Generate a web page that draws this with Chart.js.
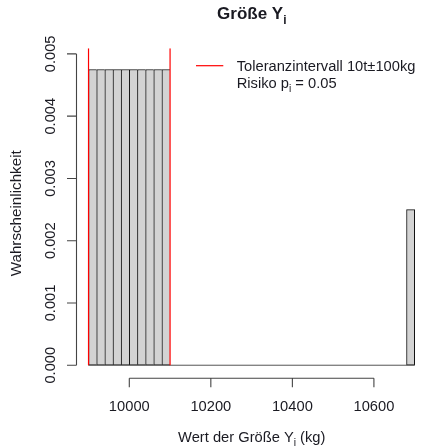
<!DOCTYPE html>
<html><head><meta charset="utf-8">
<script src="https://cdn.jsdelivr.net/npm/chart.js@4"></script>
<style>html,body{margin:0;padding:0;background:#fff}canvas{display:block}</style>
</head><body>
<canvas id="c" width="421" height="447"></canvas>
<script>
// ---- data ----
const binCenters = [9910, 9930, 9950, 9970, 9990, 10010, 10030, 10050, 10070, 10090, 10690];
const probabilities = [0.00475, 0.00475, 0.00475, 0.00475, 0.00475, 0.00475, 0.00475, 0.00475, 0.00475, 0.00475, 0.0025];
const toleranceLimits = [9900, 10100];
const zeroBaseline = [9900, 10700];
const xTicks = [10000, 10200, 10400, 10600];
const xTickLabels = ["10000", "10200", "10400", "10600"];
const yTicks = [0, 0.001, 0.002, 0.003, 0.004, 0.005];
const yTickLabels = ["0.000", "0.001", "0.002", "0.003", "0.004", "0.005"];
const titleParts = [["Größe Y", false], ["i", true]];
const xTitleParts = [["Wert der Größe Y", false], ["i", true], [" (kg)", false]];
const yTitleText = "Wahrscheinlichkeit";
const legendLine1 = [["Toleranzintervall 10t±100kg", false]];
const legendLine2 = [["Risiko p", false], ["i", true], [" = 0.05", false]];

const FONT = '"Liberation Sans", Arial, sans-serif';
const TEXT = '#1a1a22';
const AXIS = '#444';
const FS = 14.7;

function fontStr(size, bold) { return (bold ? 'bold ' : '') + size + 'px ' + FONT; }
function drawRich(ctx, parts, x, y, align, size, bold) {
  let w = 0;
  for (const [t, sub] of parts) { ctx.font = fontStr(sub ? size * 0.7 : size, bold); w += ctx.measureText(t).width; }
  let cx = align === 'center' ? x - w / 2 : x;
  ctx.textAlign = 'left'; ctx.textBaseline = 'alphabetic';
  for (const [t, sub] of parts) {
    ctx.font = fontStr(sub ? size * 0.7 : size, bold);
    ctx.fillText(t, cx, y + (sub ? size * 0.3 : 0));
    cx += ctx.measureText(t).width;
  }
}

const annotations = {
  id: 'rstyle',
  afterDatasetsDraw(chart) {
    const ctx = chart.ctx, xs = chart.scales.x, ys = chart.scales.y;
    ctx.save();
    ctx.strokeStyle = AXIS; ctx.lineWidth = 1.1; ctx.fillStyle = TEXT;
    // y axis
    const ax = chart.chartArea.left;
    ctx.beginPath();
    ctx.moveTo(ax, ys.getPixelForValue(yTicks[0]));
    ctx.lineTo(ax, ys.getPixelForValue(yTicks[yTicks.length - 1]));
    for (const v of yTicks) { const p = ys.getPixelForValue(v); ctx.moveTo(ax, p); ctx.lineTo(ax - 9.5, p); }
    ctx.stroke();
    yTicks.forEach((v, i) => {
      ctx.save(); ctx.translate(55, ys.getPixelForValue(v)); ctx.rotate(-Math.PI / 2);
      ctx.font = fontStr(FS, false); ctx.textAlign = 'center'; ctx.textBaseline = 'alphabetic';
      ctx.fillText(yTickLabels[i], 0, 0); ctx.restore();
    });
    // x axis
    const ay = chart.chartArea.bottom;
    ctx.beginPath();
    ctx.moveTo(xs.getPixelForValue(xTicks[0]), ay);
    ctx.lineTo(xs.getPixelForValue(xTicks[xTicks.length - 1]), ay);
    for (const v of xTicks) { const p = xs.getPixelForValue(v); ctx.moveTo(p, ay); ctx.lineTo(p, ay + 9); }
    ctx.stroke();
    xTicks.forEach((v, i) => {
      ctx.font = fontStr(FS, false); ctx.textAlign = 'center'; ctx.textBaseline = 'alphabetic';
      ctx.fillText(xTickLabels[i], xs.getPixelForValue(v), 411);
    });
    // titles
    const midX = (chart.chartArea.left + 427) / 2;
    drawRich(ctx, titleParts, midX, 18.5, 'center', 17, true);
    drawRich(ctx, xTitleParts, midX, 442, 'center', FS, false);
    ctx.save(); ctx.translate(20.5, (chart.chartArea.top + chart.chartArea.bottom) / 2); ctx.rotate(-Math.PI / 2);
    ctx.font = fontStr(15.2, false); ctx.textAlign = 'center'; ctx.textBaseline = 'alphabetic';
    ctx.fillText(yTitleText, 0, 0); ctx.restore();
    // legend
    ctx.strokeStyle = '#ff0000'; ctx.lineWidth = 1.2;
    ctx.beginPath(); ctx.moveTo(196, 65.7); ctx.lineTo(223.3, 65.7); ctx.stroke();
    drawRich(ctx, legendLine1, 236.7, 71, 'left', FS, false);
    drawRich(ctx, legendLine2, 236.7, 87.5, 'left', FS, false);
    ctx.restore();
  }
};

const yMin = -0.00021, yMax = 0.00509;
const lastIdx = binCenters.length - 1;

new Chart(document.getElementById('c'), {
  data: {
    datasets: [
      {
        type: 'line', order: 0,
        data: zeroBaseline.map(x => ({x, y: 0})),
        borderColor: '#555', borderWidth: 1, pointRadius: 0
      },
      {
        type: 'bar', order: 1,
        data: binCenters.map((x, i) => ({x, y: probabilities[i]})),
        backgroundColor: '#d3d3d3', borderColor: '#111',
        borderWidth: c => ({left: 1, top: 1, bottom: 1, right: c.dataIndex === lastIdx ? 1 : 0}),
        borderSkipped: false, barPercentage: 1, categoryPercentage: 1
      },
      ...toleranceLimits.map(x => ({
        type: 'line', order: -1,
        data: [{x, y: 0}, {x, y: yMax}],
        borderColor: '#ff0000', borderWidth: 1.2, pointRadius: 0
      }))
    ]
  },
  options: {
    responsive: false, animation: false, devicePixelRatio: 1,
    layout: {padding: {left: 76.5, right: 0, top: 48.3, bottom: 68.7}},
    scales: {
      x: {type: 'linear', min: 9870.5, max: 10715.5, offset: false, display: false},
      y: {type: 'linear', min: yMin, max: yMax, display: false}
    },
    plugins: {legend: {display: false}, tooltip: {enabled: false}}
  },
  plugins: [annotations]
});
</script>
</body></html>
